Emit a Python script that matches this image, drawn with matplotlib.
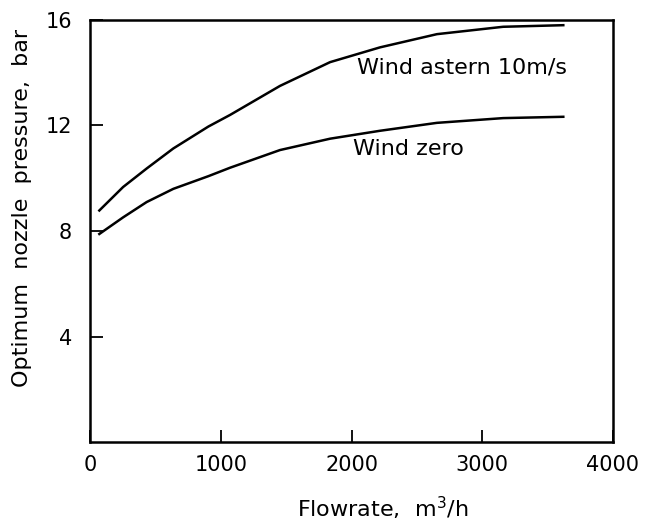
import matplotlib
matplotlib.use("Agg")
import matplotlib.pyplot as plt

# data
flow = [71, 253, 433, 637, 905, 1071, 1453, 1836, 2218, 2653, 3160, 3620]
p_astern = [8.78, 9.67, 10.37, 11.13, 11.96, 12.4, 13.5, 14.4, 14.96, 15.46, 15.74, 15.8]
p_zero = [7.89, 8.52, 9.1, 9.6, 10.08, 10.4, 11.07, 11.5, 11.8, 12.1, 12.28, 12.33]

xticks = [0, 1000, 2000, 3000, 4000]
yticks = [4, 8, 12, 16]

plt.rcParams['font.family'] = ['DejaVu Sans']

fig = plt.figure(figsize=(6.67, 5.24), dpi=100)
ax = fig.add_axes([0.135, 0.156, 0.784, 0.806])

ax.plot(flow, p_astern, color='black', linewidth=1.8)
ax.plot(flow, p_zero, color='black', linewidth=1.8)

ax.text(2040, 14.2, 'Wind astern 10m/s', fontsize=16, va='center', ha='left')
ax.text(2010, 11.1, 'Wind zero', fontsize=16, va='center', ha='left')

ax.set_xlim(0, 4000)
ax.set_ylim(0, 16)
ax.set_xticks(xticks)
ax.set_yticks(yticks)
ax.tick_params(direction='in', length=9, width=1.3, labelsize=15, pad=9)
ax.tick_params(axis='y', pad=13)

for s in ax.spines.values():
    s.set_linewidth(1.8)

ax.set_xlabel('Flowrate,  m$^3$/h', fontsize=16, va='center')
ax.xaxis.set_label_coords(0.56, -0.157)
ax.set_ylabel('Optimum  nozzle  pressure,  bar', fontsize=16, va='center')
ax.yaxis.set_label_coords(-0.13, 0.555)

fig.savefig('out.png', dpi=100)
